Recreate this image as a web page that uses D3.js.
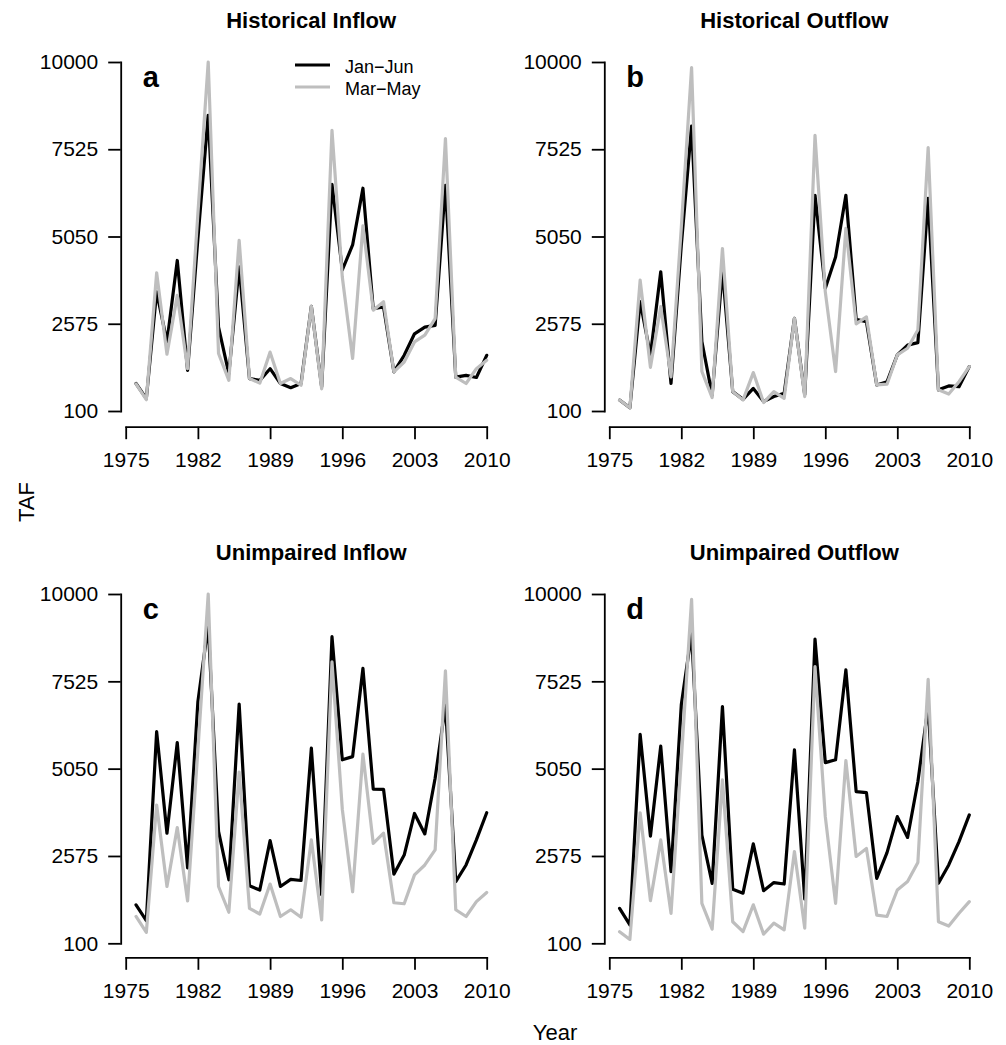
<!DOCTYPE html>
<html>
<head>
<meta charset="utf-8">
<script src="https://cdn.jsdelivr.net/npm/d3@7"></script>
<style>
  body { margin: 0; background: #fff; }
  svg { display: block; font-family: "Liberation Sans", Arial, sans-serif; }
  .axis path, .axis line { stroke: #000; stroke-width: 1.8; }
  .axis text { font-size: 21px; fill: #000; }
</style>
</head>
<body>
<div id="vis"></div>
<script>
// Years and ticks
const YEARS = [1976, 1977, 1978, 1979, 1980, 1981, 1982, 1983, 1984, 1985,
               1986, 1987, 1988, 1989, 1990, 1991, 1992, 1993, 1994, 1995,
               1996, 1997, 1998, 1999, 2000, 2001, 2002, 2003, 2004, 2005,
               2006, 2007, 2008, 2009, 2010];
const X_TICKS = [1975, 1982, 1989, 1996, 2003, 2010];
const Y_TICKS = [100, 2575, 5050, 7525, 10000];
const SERIES_NAMES = ["Jan\u2212Jun", "Mar\u2212May"];

// Historical inflow (TAF)
const HIST_IN_JANJUN = [880, 450, 3480, 2060, 4370, 1250, 5000, 8490, 2480, 1160,
                        4190, 1020, 970, 1300, 880, 760, 880, 3070, 780, 6530,
                        4100, 4810, 6420, 3000, 3050, 1210, 1680, 2290, 2480, 2530,
                        6500, 1060, 1110, 1050, 1680];
const HIST_IN_MARMAY = [870, 420, 4020, 1710, 3380, 1300, 5700, 10000, 1730, 970,
                        4940, 1020, 890, 1770, 880, 1020, 830, 3070, 730, 8060,
                        3900, 1590, 5350, 2960, 3200, 1210, 1490, 2060, 2250, 2720,
                        7830, 1060, 880, 1300, 1540];

// Historical outflow (TAF)
const HIST_OUT_JANJUN = [410, 190, 3200, 1690, 4050, 880, 4800, 8180, 2070, 550,
                         4100, 650, 430, 740, 370, 510, 600, 2730, 560, 6220,
                         3580, 4470, 6220, 2700, 2630, 840, 930, 1690, 1970, 2040,
                         6130, 700, 810, 790, 1360];
const HIST_OUT_MARMAY = [410, 190, 3810, 1340, 3060, 1070, 5300, 9840, 1220, 480,
                         4710, 650, 410, 1190, 340, 650, 460, 2730, 510, 7920,
                         3480, 1220, 5280, 2570, 2770, 840, 860, 1690, 1880, 2400,
                         7570, 700, 580, 930, 1360];

// Unimpaired inflow (TAF)
const UNIMP_IN_JANJUN = [1190, 740, 6100, 3220, 5790, 2240, 6950, 9120, 3270, 1900,
                         6880, 1730, 1610, 3010, 1710, 1910, 1880, 5630, 1470, 8790,
                         5300, 5390, 7890, 4470, 4460, 2060, 2600, 3780, 3200, 4780,
                         6850, 1850, 2320, 3030, 3800];
const UNIMP_IN_MARMAY = [860, 410, 4020, 1710, 3380, 1300, 5580, 10000, 1710, 980,
                         4950, 1090, 930, 1780, 860, 1050, 840, 3030, 760, 8080,
                         3900, 1560, 5460, 2930, 3220, 1250, 1220, 2040, 2320, 2750,
                         7820, 1050, 860, 1280, 1540];

// Unimpaired outflow (TAF)
const UNIMP_OUT_JANJUN = [1090, 620, 6020, 3140, 5690, 2130, 6860, 8890, 3170, 1800,
                          6810, 1630, 1520, 2920, 1590, 1820, 1780, 5580, 1350, 8720,
                          5220, 5300, 7850, 4400, 4370, 1940, 2670, 3690, 3100, 4680,
                          6810, 1800, 2320, 2980, 3740];
const UNIMP_OUT_MARMAY = [430, 210, 3800, 1310, 3030, 950, 5300, 9850, 1230, 500,
                          4730, 710, 430, 1190, 360, 670, 480, 2700, 530, 7940,
                          3690, 1230, 5280, 2560, 2790, 900, 860, 1610, 1850, 2390,
                          7580, 710, 590, 950, 1280];

// Panel layout
const WIDTH = 1006, HEIGHT = 1045;
const TICK_LEN = 12.5;
const PANELS = [
  {title: "Historical Inflow",  letter: "a", left: 125.7, right: 486.7, top: 62,  bottom: 411,
   yAxisX: 120.7, xAxisY: 426.7, jan: HIST_IN_JANJUN,  mar: HIST_IN_MARMAY,  legend: true},
  {title: "Historical Outflow", letter: "b", left: 609.3, right: 969.3, top: 62,  bottom: 411,
   yAxisX: 604.3, xAxisY: 426.7, jan: HIST_OUT_JANJUN, mar: HIST_OUT_MARMAY, legend: false},
  {title: "Unimpaired Inflow",  letter: "c", left: 125.7, right: 486.7, top: 594, bottom: 943.3,
   yAxisX: 120.7, xAxisY: 957.3, jan: UNIMP_IN_JANJUN,  mar: UNIMP_IN_MARMAY,  legend: false},
  {title: "Unimpaired Outflow", letter: "d", left: 609.3, right: 969.3, top: 594, bottom: 943.3,
   yAxisX: 604.3, xAxisY: 957.3, jan: UNIMP_OUT_JANJUN, mar: UNIMP_OUT_MARMAY, legend: false}
];

const COLORS = ["#000000", "#bebebe"];

const SVG = d3.select("#vis")
              .append("svg")
              .attr("width", WIDTH)
              .attr("height", HEIGHT);

PANELS.forEach(p => {
  const X_SCALE = d3.scaleLinear()
                    .domain([1975, 2010])
                    .range([p.left, p.right]);
  const Y_SCALE = d3.scaleLinear()
                    .domain([100, 10000])
                    .range([p.bottom, p.top]);

  // x-axis
  SVG.append("g")
     .attr("class", "axis")
     .attr("transform", "translate(0," + p.xAxisY + ")")
     .call(d3.axisBottom(X_SCALE).tickValues(X_TICKS).tickFormat(d3.format("d"))
             .tickSizeInner(TICK_LEN).tickSizeOuter(0).tickPadding(13));

  // y-axis
  SVG.append("g")
     .attr("class", "axis")
     .attr("transform", "translate(" + p.yAxisX + ",0)")
     .call(d3.axisLeft(Y_SCALE).tickValues(Y_TICKS).tickFormat(d3.format("d"))
             .tickSizeInner(TICK_LEN).tickSizeOuter(0).tickPadding(10));

  SVG.selectAll(".axis .domain").attr("stroke-linecap", "square");

  // lines: Jan-Jun first, Mar-May on top
  const line = d3.line()
                 .x((d, i) => X_SCALE(YEARS[i]))
                 .y(d => Y_SCALE(d));

  [p.jan, p.mar].forEach((vals, k) => {
    SVG.append("path")
       .datum(vals)
       .attr("d", line)
       .attr("fill", "none")
       .attr("stroke", COLORS[k])
       .attr("stroke-width", 3.2)
       .attr("stroke-linejoin", "round")
       .attr("stroke-linecap", "round");
  });

  // title
  SVG.append("text")
     .attr("x", (p.left + p.right) / 2 + 5)
     .attr("y", p.top - 34)
     .attr("text-anchor", "middle")
     .attr("font-size", 22)
     .attr("font-weight", "bold")
     .text(p.title);

  // panel letter
  SVG.append("text")
     .attr("x", p.yAxisX + 22)
     .attr("y", p.top + 24.7)
     .attr("font-size", 29)
     .attr("font-weight", "bold")
     .text(p.letter);

  // legend
  if (p.legend) {
    SERIES_NAMES.forEach((name, k) => {
      const ly = p.top + 3 + k * 22;
      SVG.append("line")
         .attr("x1", 295).attr("x2", 330)
         .attr("y1", ly).attr("y2", ly)
         .attr("stroke", COLORS[k])
         .attr("stroke-width", 3.2);
      SVG.append("text")
         .attr("x", 345)
         .attr("y", ly + 7.5)
         .attr("font-size", 18)
         .text(name);
    });
  }
});

// shared axis labels
SVG.append("text")
   .attr("transform", "translate(34,502) rotate(-90)")
   .attr("text-anchor", "middle")
   .attr("font-size", 22)
   .text("TAF");

SVG.append("text")
   .attr("x", 555)
   .attr("y", 1040)
   .attr("text-anchor", "middle")
   .attr("font-size", 22)
   .text("Year");
</script>
</body>
</html>
